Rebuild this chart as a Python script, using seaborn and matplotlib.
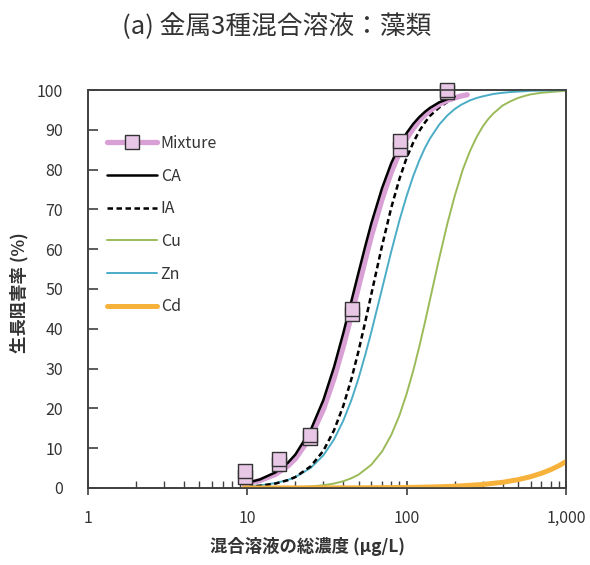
import matplotlib
matplotlib.use("Agg")
import matplotlib.pyplot as plt
import seaborn as sns
from matplotlib.lines import Line2D
from matplotlib.patches import Rectangle
from matplotlib.ticker import FixedLocator, LogLocator, NullFormatter, FuncFormatter

# measured mixture points (concentration, inhibition %)
mix_x = [9.7, 9.7, 15.8, 15.8, 24.9, 24.9, 45.4, 45.4, 90.9, 90.9, 180, 180]
mix_y = [2.8, 4.3, 6.0, 7.3, 12.6, 13.4, 43.6, 45.0, 85.2, 87.2, 99.5, 100.0]

# curves
mixfit_x = [9.5, 10, 12, 15, 18, 20, 25, 30, 35, 40, 45, 50, 55, 60, 70, 80, 90, 100, 110, 120, 130, 140, 160,
            180, 200, 220, 240]
mixfit_y = [0.97, 1.12, 1.86, 3.41, 5.56, 7.33, 12.9, 19.7, 27.5, 35.5, 43.4, 50.7, 57.3, 63.2, 72.5, 79.3, 84.2,
            87.8, 90.3, 92.3, 93.7, 94.8, 96.4, 97.4, 98.0, 98.5, 98.8]

ca_x = [9.5, 10, 12, 15, 18, 20, 25, 30, 35, 40, 45, 50, 55, 60, 70, 80, 90, 100, 110, 120, 130, 140, 160, 180, 200]
ca_y = [1.12, 1.30, 2.14, 3.92, 6.37, 8.38, 14.6, 22.1, 30.4, 38.9, 47.0, 54.3, 60.8, 66.5, 75.3, 81.6, 86.0,
        89.2, 91.5, 93.2, 94.5, 95.5, 96.9, 97.7, 98.3]

ia_x = [10, 12, 15, 18, 20, 25, 30, 35, 40, 45, 50, 55, 60, 70, 80, 90, 100, 110, 120, 130, 140, 160, 180, 200]
ia_y = [0.31, 0.55, 1.11, 1.97, 2.75, 5.45, 9.35, 14.5, 20.6, 27.4, 34.6, 41.8, 48.7, 60.8, 70.4, 77.6, 83.0,
        86.8, 89.7, 91.8, 93.5, 95.6, 97.0, 97.8]

cu_x = [10, 15, 20, 25, 30, 35, 40, 45, 50, 60, 70, 80, 90, 100, 110, 120, 130, 140, 160, 180, 200, 225, 250,
        275, 300, 325, 350, 400, 450, 500, 550, 600, 700, 800, 1000]
cu_y = [0.02, 0.08, 0.19, 0.39, 0.69, 1.12, 1.70, 2.45, 3.38, 5.84, 9.14, 13.3, 18.2, 23.7, 29.5, 35.5, 41.5,
        47.3, 57.7, 66.4, 73.3, 80.0, 84.7, 88.2, 90.8, 92.7, 94.1, 96.1, 97.2, 98.0, 98.5, 98.9, 99.3, 99.5, 99.8]

zn_x = [9.5, 10, 12, 15, 18, 20, 25, 30, 35, 40, 45, 50, 55, 60, 70, 80, 90, 100, 110, 120, 130, 140, 160, 180,
        200, 220, 250, 275, 300, 350, 400, 450, 500, 600, 800, 1000]
zn_y = [0.34, 0.39, 0.65, 1.23, 2.04, 2.74, 5.05, 8.2, 12.2, 16.9, 22.1, 27.7, 33.5, 39.2, 50.0, 59.4, 67.2,
        73.4, 78.4, 82.3, 85.4, 87.8, 91.3, 93.6, 95.2, 96.3, 97.4, 98.0, 98.4, 99.0, 99.3, 99.5, 99.6, 99.8,
        99.9, 100.0]

cd_x = [9.5, 50, 100, 150, 200, 300, 400, 500, 600, 700, 800, 900, 1000]
cd_y = [0.0, 0.04, 0.13, 0.27, 0.44, 0.88, 1.43, 2.09, 2.84, 3.68, 4.59, 5.57, 6.62]

x_ticks = [1, 10, 100, 1000]
y_ticks = [0, 10, 20, 30, 40, 50, 60, 70, 80, 90, 100]

PINK = "#D9A0D5"
PINK_FACE = "#E8C6E5"
GREEN = "#9BBB59"
TEAL = "#4BACC6"
ORANGE = "#F6B23A"
AXC = "#404040"
IA_DASH = (0, (2.2, 1.4))

sns.set_theme(style="white")
plt.rcParams["font.family"] = ["Noto Sans CJK JP", "DejaVu Sans"]

fig = plt.figure(figsize=(5.9, 5.65), dpi=100)
ax = fig.add_axes([0.1492, 0.1363, 0.8101, 0.7044])

sns.lineplot(x=cu_x, y=cu_y, ax=ax, color=GREEN, lw=1.4, zorder=2)
sns.lineplot(x=zn_x, y=zn_y, ax=ax, color=TEAL, lw=1.4, zorder=3)
sns.lineplot(x=ia_x, y=ia_y, ax=ax, color="black", lw=1.8, linestyle=IA_DASH, zorder=4)
sns.lineplot(x=mixfit_x, y=mixfit_y, ax=ax, color=PINK, lw=3.8, zorder=5)
sns.lineplot(x=ca_x, y=ca_y, ax=ax, color="black", lw=1.8, zorder=6)
sns.lineplot(x=cd_x, y=cd_y, ax=ax, color=ORANGE, lw=3.6, zorder=7)
sns.scatterplot(x=mix_x, y=mix_y, ax=ax, marker="s", s=95, color=PINK_FACE,
                edgecolor="#333333", linewidth=1.0, zorder=8, clip_on=False)

ax.set_xscale("log")
ax.set_xlim(1, 1000)
ax.set_ylim(0, 100)
ax.xaxis.set_major_locator(FixedLocator(x_ticks))
ax.xaxis.set_major_formatter(FuncFormatter(lambda v, p: f"{v:,.0f}"))
ax.xaxis.set_minor_locator(LogLocator(base=10, subs=[2, 3, 4, 5, 6, 7, 8, 9]))
ax.xaxis.set_minor_formatter(NullFormatter())
ax.yaxis.set_major_locator(FixedLocator(y_ticks))

for sp in ax.spines.values():
    sp.set_visible(True)
    sp.set_color(AXC)
    sp.set_linewidth(1.2)

# plot frame (box around the plot area)
ax.add_patch(Rectangle((0, 0), 1, 1, transform=ax.transAxes, fill=False,
                       edgecolor=AXC, linewidth=1.2, zorder=9, clip_on=False))

ax.tick_params(axis="x", which="major", direction="inout", length=10, width=1.2, color=AXC,
               bottom=True, pad=11, labelsize=11.5, labelcolor="#333333")
ax.tick_params(axis="x", which="minor", direction="in", length=5, width=1.0, color=AXC, bottom=True)
ax.tick_params(axis="y", which="major", direction="in", length=7, width=1.2, color=AXC,
               left=True, pad=18, labelsize=11.5, labelcolor="#333333")

ax.set_xlabel("混合溶液の総濃度 (μg/L)", fontsize=12.5, fontweight="bold", color="#333333", va="center")
ax.xaxis.set_label_coords(0.46, -0.146)
ax.set_ylabel("生長阻害率 (%)", fontsize=12.5, fontweight="bold", color="#333333", va="center")
ax.yaxis.set_label_coords(-0.144, 0.492)

fig.text(0.469, 0.952, "(a) 金属3種混合溶液：藻類", fontsize=18.5, ha="center", va="center", color="#333333")

handles = [
    Line2D([], [], color=PINK, lw=3.8, marker="s", markersize=9.5, markerfacecolor=PINK_FACE,
           markeredgecolor="#333333", markeredgewidth=1.0),
    Line2D([], [], color="black", lw=1.8),
    Line2D([], [], color="black", lw=1.8, linestyle=IA_DASH),
    Line2D([], [], color=GREEN, lw=1.4),
    Line2D([], [], color=TEAL, lw=1.4),
    Line2D([], [], color=ORANGE, lw=3.6),
]
labels = ["Mixture", "CA", "IA", "Cu", "Zn", "Cd"]
ax.legend(handles, labels, loc="upper left", bbox_to_anchor=(0.01, 0.923), frameon=False,
          numpoints=1, handlelength=3.1, handletextpad=0.25, labelspacing=0.98, fontsize=11.5,
          labelcolor="#333333")

fig.savefig("out.png", dpi=100)
